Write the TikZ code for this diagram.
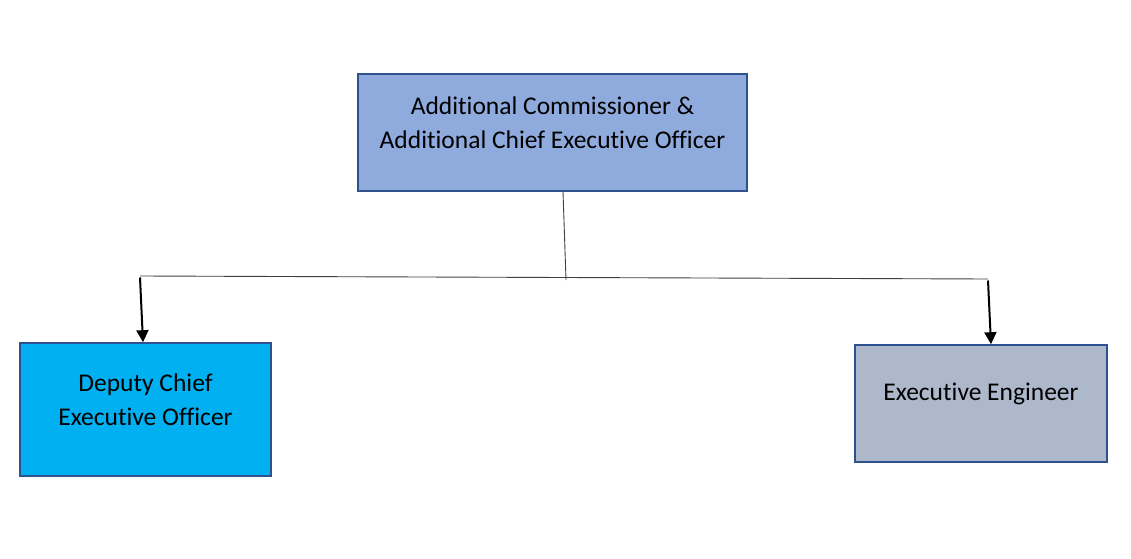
\documentclass[tikz,border=0pt]{standalone}
\usepackage{fontspec}
\setmainfont[Ligatures=NoCommon]{Carlito}
\usetikzlibrary{arrows.meta}
\definecolor{bordc}{HTML}{2F528F}
\definecolor{topc}{HTML}{8FAADC}
\definecolor{leftc}{HTML}{00B0F0}
\definecolor{rightc}{HTML}{ADB9CA}
\tikzset{
  box/.style={draw=bordc, line width=1.6pt, minimum width=#1, inner sep=0pt},
  boxtext/.style={align=center, inner sep=0pt, font=\fontsize{25.5}{34}\selectfont, text=black},
  thinline/.style={draw=black!75, line width=0.9pt},
  arr/.style={draw=black, line width=2pt, -{Triangle[length=12pt,width=12pt]}}
}
\begin{document}
\begin{tikzpicture}[x=1pt,y=1pt]
\useasboundingbox (0,0) rectangle (1131,558);
\node[box=389pt, minimum height=117pt, fill=topc] (top) at (552.5,425.5) {};
\node[box=251pt, minimum height=133pt, fill=leftc] (left) at (145.5,148.5) {};
\node[box=252pt, minimum height=117pt, fill=rightc] (right) at (981,154.5) {};
\node[boxtext] (toptext) at ([yshift=10pt]top.center)
  {Additional Commissioner \&\\Additional Chief Executive Officer};
\node[boxtext] (lefttext) at ([yshift=10pt]left.center)
  {Deputy Chief\\Executive Officer};
\node[boxtext] (righttext) at ([yshift=10pt]right.center)
  {Executive Engineer};
\coordinate (jL) at (140,282);
\coordinate (jM) at (566,278);
\coordinate (jR) at (988,279);
\draw[thinline] ([xshift=10.5pt]top.south) -- (jM);
\draw[thinline] (jL) -- (jR);
\draw[arr] ([yshift=-1.5pt]jL) -- ([xshift=-2.5pt]left.north);
\draw[arr] ([yshift=-1.5pt]jR) -- ([xshift=10pt]right.north);
\end{tikzpicture}
\end{document}
